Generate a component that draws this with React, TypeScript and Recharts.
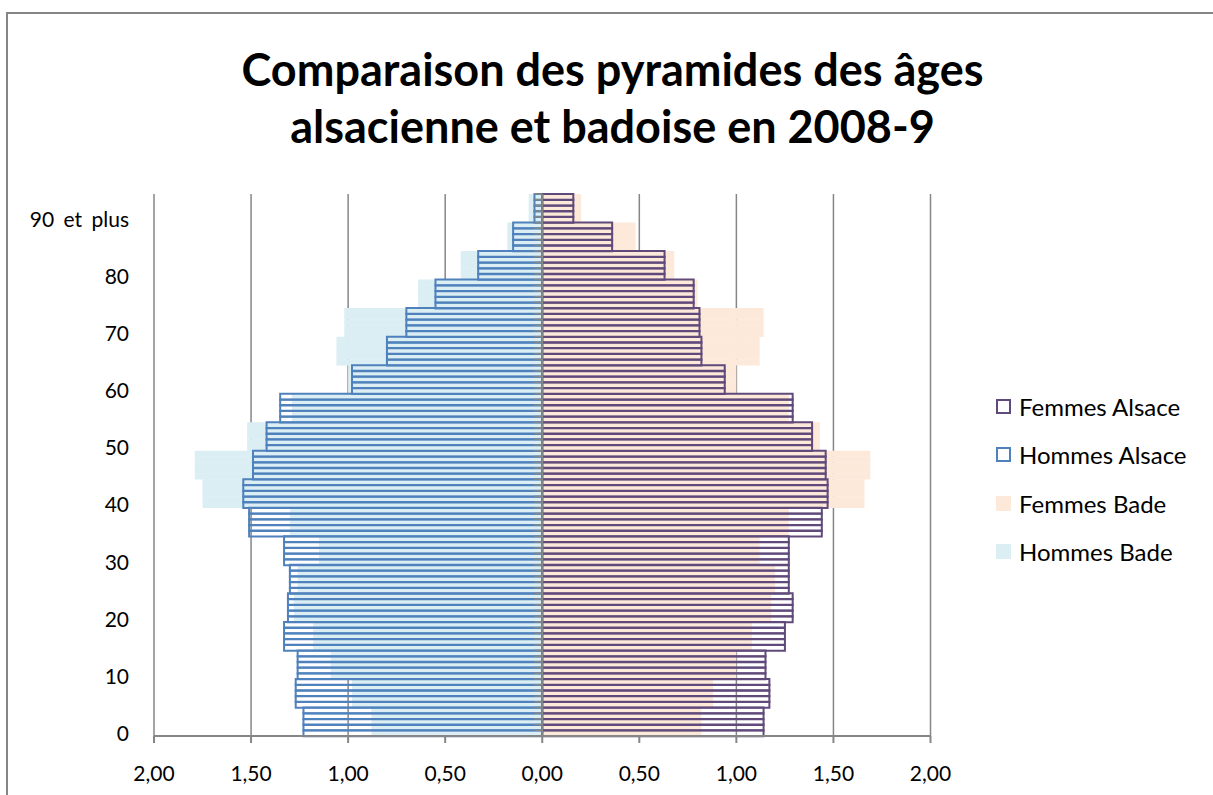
import { BarChart, Bar, XAxis, YAxis, CartesianGrid, ReferenceLine } from 'recharts';

// values per 5-year age group, from 0-4 up to 90-94 (in % of population)
const hommesAlsace = [1.23, 1.27, 1.26, 1.33, 1.31, 1.3, 1.33, 1.51, 1.54, 1.49, 1.42, 1.35, 0.98, 0.8, 0.7, 0.55, 0.33, 0.15, 0.04];
const femmesAlsace = [1.14, 1.17, 1.15, 1.25, 1.29, 1.27, 1.27, 1.44, 1.47, 1.46, 1.39, 1.29, 0.94, 0.82, 0.81, 0.78, 0.63, 0.36, 0.16];
const hommesBade = [0.88, 0.98, 1.09, 1.18, 1.28, 1.26, 1.15, 1.3, 1.75, 1.79, 1.52, 1.29, 1.0, 1.06, 1.02, 0.64, 0.42, 0.18, 0.07];
const femmesBade = [0.82, 0.88, 1.0, 1.08, 1.18, 1.2, 1.12, 1.27, 1.66, 1.69, 1.43, 1.27, 1.0, 1.12, 1.14, 0.8, 0.68, 0.48, 0.2];

const xTicks = [-2, -1.5, -1, -0.5, 0, 0.5, 1, 1.5, 2];
const lastLabel = '90 et plus';
const title = ['Comparaison des pyramides des âges', 'alsacienne et badoise en 2008-9'];

const legendItems = [
  { name: 'Femmes Alsace', color: '#604a7b', outline: true },
  { name: 'Hommes Alsace', color: '#4f81bd', outline: true },
  { name: 'Femmes Bade', color: '#fde9d9', outline: false },
  { name: 'Hommes Bade', color: '#daeef3', outline: false },
];

const ages = Array.from({ length: hommesAlsace.length * 5 }, (_, i) => i);
const data = ages.map((age) => {
  const g = Math.floor(age / 5);
  return {
    label: age === 90 ? lastLabel : String(age),
    hommesAlsace: -hommesAlsace[g],
    femmesAlsace: femmesAlsace[g],
    hommesBade: -hommesBade[g],
    femmesBade: femmesBade[g],
  };
});

const W = 1213;
const H = 795;
const PLOT_LEFT = 154;
const PLOT_RIGHT = 930.5;
const PLOT_TOP = 194;
const PLOT_BOTTOM = 736;
const BAND = (PLOT_BOTTOM - PLOT_TOP) / data.length;
const CENTER_X = (PLOT_LEFT + PLOT_RIGHT) / 2;
const GREY = '#868686';
const FONT = 'Lato, "Noto Sans", sans-serif';

const fmt = (v: number) => Math.abs(v).toFixed(2).replace('.', ',');

function AgeTick(props: any) {
  const { x, y, payload } = props;
  const v = String(payload.value);
  const show = v === lastLabel || Number(v) % 10 === 0;
  return (
    <g>
      <line x1={CENTER_X - 8} x2={CENTER_X} y1={y + BAND / 2} y2={y + BAND / 2} stroke={GREY} strokeWidth={1.5} />
      {v === '94' && (
        <line x1={CENTER_X - 8} x2={CENTER_X} y1={y - BAND / 2} y2={y - BAND / 2} stroke={GREY} strokeWidth={1.5} />
      )}
      {show && (
        <text x={x} y={y} dy="0.36em" textAnchor="end" fontSize={21} wordSpacing={4} fontFamily={FONT} fill="#000">
          {v}
        </text>
      )}
    </g>
  );
}

export default function App() {
  return (
    <div style={{ position: 'absolute', left: 0, top: 0, width: W, height: H, overflow: 'hidden', background: '#fff' }}>
      <div
        style={{
          position: 'absolute',
          left: 6,
          top: 12,
          width: 1400,
          height: 1000,
          border: `2px solid ${GREY}`,
        }}
      />
      <div
        style={{
          position: 'absolute',
          left: 0,
          width: 1225,
          top: 41,
          textAlign: 'center',
          fontFamily: FONT,
          fontWeight: 700,
          fontSize: 45,
          lineHeight: '57px',
          color: '#000',
        }}
      >
        {title.map((t) => (
          <div key={t}>{t}</div>
        ))}
      </div>
      <div style={{ position: 'absolute', left: 0, top: 0 }}>
        <BarChart
          width={W}
          height={H}
          data={data}
          layout="vertical"
          stackOffset="sign"
          barCategoryGap={0}
          barGap={0}
          margin={{ top: PLOT_TOP, right: W - PLOT_RIGHT, bottom: 0, left: 0 }}
        >
          <CartesianGrid horizontal={false} stroke={GREY} strokeWidth={1.5} yAxisId="alsace" />
          <XAxis
            type="number"
            domain={[-2, 2]}
            ticks={xTicks}
            tickFormatter={fmt}
            height={H - PLOT_BOTTOM}
            stroke={GREY}
            strokeWidth={2}
            tickSize={7}
            tickMargin={23}
            tick={{ fill: '#000', fontSize: 21, fontFamily: FONT }}
          />
          <YAxis yAxisId="bade" type="category" dataKey="label" reversed hide />
          <Bar yAxisId="bade" dataKey="hommesBade" stackId="bade" fill="#daeef3" isAnimationActive={false} />
          <Bar yAxisId="bade" dataKey="femmesBade" stackId="bade" fill="#fde9d9" isAnimationActive={false} />
          <Bar
            yAxisId="alsace"
            dataKey="hommesAlsace"
            stackId="alsace"
            fill="none"
            stroke="#4f81bd"
            strokeWidth={2}
            isAnimationActive={false}
          />
          <Bar
            yAxisId="alsace"
            dataKey="femmesAlsace"
            stackId="alsace"
            fill="none"
            stroke="#604a7b"
            strokeWidth={2}
            isAnimationActive={false}
          />
          <ReferenceLine yAxisId="alsace" x={0} stroke={GREY} strokeWidth={2} />
          <YAxis
            yAxisId="alsace"
            type="category"
            dataKey="label"
            reversed
            width={PLOT_LEFT}
            interval={0}
            axisLine={false}
            tickLine={false}
            tickSize={0}
            tickMargin={25}
            tick={<AgeTick />}
          />
        </BarChart>
      </div>
      <div style={{ position: 'absolute', left: 996, top: 382, fontFamily: FONT, fontSize: 24, color: '#000' }}>
        {legendItems.map((item) => (
          <div key={item.name} style={{ display: 'flex', alignItems: 'center', height: 48.5 }}>
            <span
              style={{
                display: 'inline-block',
                boxSizing: 'border-box',
                width: 15,
                height: 15,
                marginRight: 8,
                background: item.outline ? 'transparent' : item.color,
                border: item.outline ? `2.5px solid ${item.color}` : 'none',
              }}
            />
            {item.name}
          </div>
        ))}
      </div>
    </div>
  );
}
